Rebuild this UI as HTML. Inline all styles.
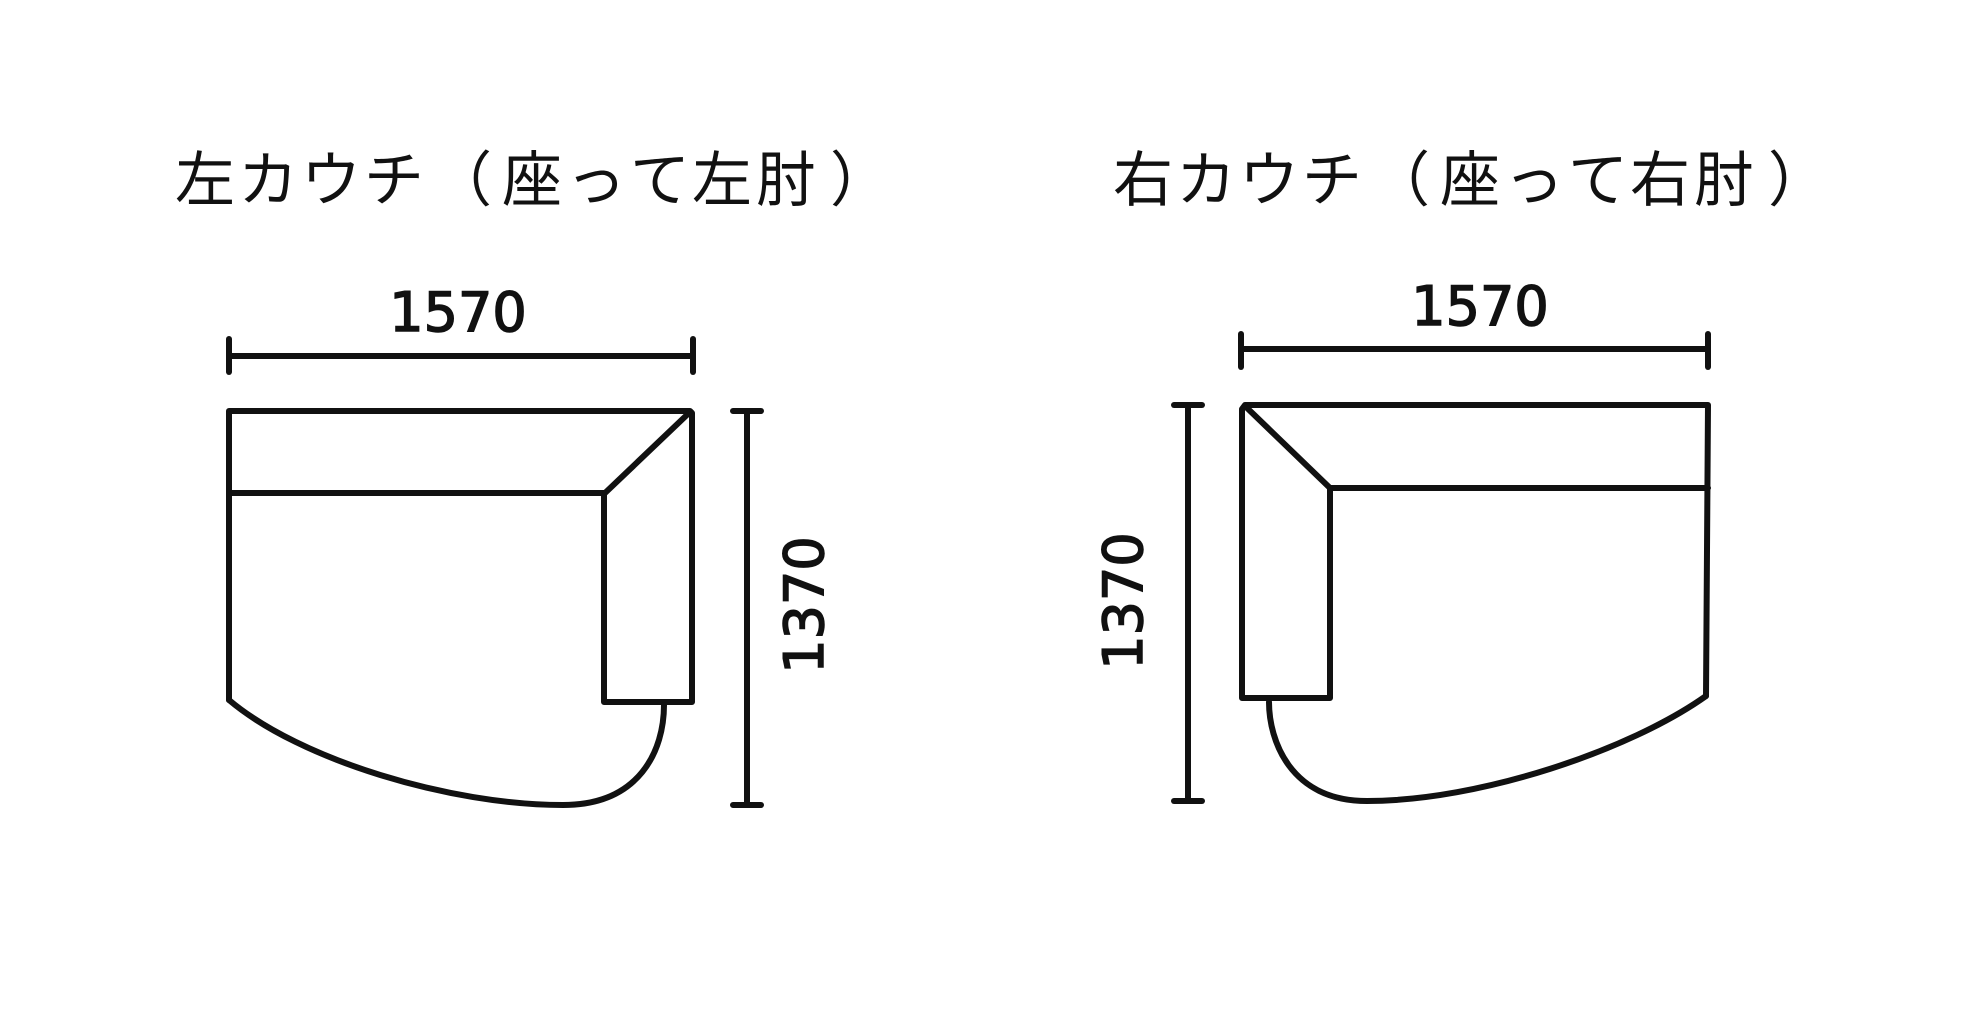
<!DOCTYPE html>
<html><head><meta charset="utf-8"><style>
html,body{margin:0;padding:0;background:#fff;width:1984px;height:1010px;overflow:hidden}
</style></head><body>
<svg width="1984" height="1010" viewBox="0 0 1984 1010" xmlns="http://www.w3.org/2000/svg">
<g font-family="'Liberation Sans','Noto Sans CJK JP',sans-serif" font-size="60" fill="#111">
<text x="175 238 301 364 432 502 566 630 692 756 830" y="201">左カウチ（座って左肘）</text>
<text x="1113 1176 1239 1302 1370 1440 1504 1568 1630 1694 1768" y="201">右カウチ（座って右肘）</text>
</g>
<g fill="none" stroke="#111" stroke-width="6" stroke-linejoin="round" stroke-linecap="round">
<line x1="229" y1="356" x2="693" y2="356"/>
<line x1="229" y1="339" x2="229" y2="372"/>
<line x1="693" y1="339" x2="693" y2="372"/>
<path d="M229,700 L229,411 L690,411 L692,413 L692,702 L604,702 L604,493 L229,493"/>
<line x1="690" y1="412" x2="605" y2="493"/>
<path d="M229,700 C300,760 450,805 563,805 C640,805 664,750 664,705"/>
<line x1="747" y1="411" x2="747" y2="805"/>
<line x1="733" y1="411" x2="761" y2="411"/>
<line x1="733" y1="805" x2="761" y2="805"/>
<line x1="1241" y1="349" x2="1708" y2="349"/>
<line x1="1241" y1="334" x2="1241" y2="367"/>
<line x1="1708" y1="334" x2="1708" y2="367"/>
<path d="M1706,696 L1708,405 L1245,405 L1242,409 L1242,698 L1330,698 L1330,488 L1708,488"/>
<line x1="1245" y1="406" x2="1330" y2="488"/>
<path d="M1706,696 C1630,750 1480,801 1367,801 C1290,801 1269,740 1269,702"/>
<line x1="1188" y1="405" x2="1188" y2="801"/>
<line x1="1174" y1="405" x2="1202" y2="405"/>
<line x1="1174" y1="801" x2="1202" y2="801"/>
</g>
<g font-family="'DejaVu Sans',sans-serif" font-size="54" fill="#111" stroke="#111" stroke-width="1.5" text-anchor="middle">
<text x="458" y="331">1570</text>
<text x="1480" y="325">1570</text>
<text transform="translate(823,605) rotate(-90)" x="0" y="0">1370</text>
<text transform="translate(1142,601) rotate(-90)" x="0" y="0">1370</text>
</g>
</svg>
</body></html>
